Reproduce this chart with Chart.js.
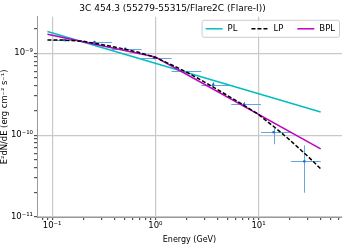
<!DOCTYPE html>
<html>
<head>
<meta charset="utf-8">
<script src="https://cdn.jsdelivr.net/npm/chart.js@4.4.0/dist/chart.umd.min.js"></script>
<style>
  html, body { margin: 0; padding: 0; background: #fff; }
  canvas { display: block; }
</style>
</head>
<body>
<canvas id="sed" width="346" height="245"></canvas>
<script>
// ===== Data =====
const energy = [0.132, 0.257, 0.509, 0.968, 1.79, 3.64, 7.23, 14.0, 27.8];
const eLow = [0.1, 0.1946, 0.3788, 0.7372, 1.435, 2.793, 5.436, 10.58, 20.59];
const eHigh = [0.1946, 0.3788, 0.7372, 1.435, 2.793, 5.436, 10.58, 20.59, 40.07];
const flux = [1.45e-9, 1.37e-9, 1.13e-9, 8.77e-10, 6.11e-10, 4.14e-10, 2.37e-10, 1.09e-10, 4.77e-11];
const fluxLow = [1.39e-9, 1.31e-9, 1.08e-9, 8.4e-10, 5.85e-10, 3.85e-10, 2.2e-10, 7.74e-11, 1.98e-11];
const fluxHigh = [1.51e-9, 1.43e-9, 1.18e-9, 9.1e-10, 6.4e-10, 4.45e-10, 2.55e-10, 1.25e-10, 7.5e-11];

// model curves
const plE = [0.09, 40];
const plF = [1.85e-9, 1.92e-10];
const lpE = [0.09, 0.13, 0.2, 0.3, 0.5, 0.7, 1, 1.5, 2, 3, 5, 7, 10, 15, 20, 30, 40];
const lpF = [1.45e-9, 1.45e-9, 1.4e-9, 1.28e-9, 1.13e-9, 1.02e-9, 8.9e-10, 7.05e-10, 5.9e-10,
             4.45e-10, 3.05e-10, 2.37e-10, 1.79e-10, 1.19e-10, 8.77e-11, 5.52e-11, 3.89e-11];
const bplE = [0.09, 1, 40];
const bplF = [1.71e-9, 9.0e-10, 6.8e-11];

// ticks
const xMajor = [0.1, 1, 10];
const xMajorLabels = ['10\u207B\u00B9', '10\u2070', '10\u00B9'];
const yMajor = [1e-11, 1e-10, 1e-9];
const yMajorLabels = ['10\u207B\u00B9\u00B9', '10\u207B\u00B9\u2070', '10\u207B\u2079'];

const FONT = 'DejaVu Sans';

function minorTicks(lo, hi) {
  const out = [];
  for (let e = Math.floor(Math.log10(lo)); e <= Math.ceil(Math.log10(hi)); e++) {
    for (let m = 1; m < 10; m++) {
      const v = m * Math.pow(10, e);
      if (v >= lo && v <= hi) out.push(v);
    }
  }
  return out;
}
function isMajor(list, v) {
  return list.some(m => Math.abs(Math.log10(m) - Math.log10(v)) < 1e-6);
}
const pts = (xs, ys) => xs.map((v, i) => ({ x: v, y: ys[i] }));

// ===== error bars drawn through the chart scales =====
const errorBars = {
  id: 'errorBars',
  beforeDatasetsDraw(chart) {
    const { ctx, chartArea, scales: { x, y } } = chart;
    ctx.save();
    ctx.beginPath();
    ctx.rect(chartArea.left, chartArea.top, chartArea.width, chartArea.height);
    ctx.clip();
    ctx.strokeStyle = '#62a8e0';
    ctx.lineWidth = 1;
    energy.forEach((e, i) => {
      const px = Math.round(x.getPixelForValue(e)) + 0.5;
      const py = Math.round(y.getPixelForValue(flux[i])) + 0.5;
      ctx.beginPath();
      ctx.moveTo(x.getPixelForValue(eLow[i]), py);
      ctx.lineTo(x.getPixelForValue(eHigh[i]), py);
      ctx.moveTo(px, y.getPixelForValue(fluxLow[i]));
      ctx.lineTo(px, y.getPixelForValue(fluxHigh[i]));
      ctx.stroke();
    });
    ctx.restore();
  }
};

// ===== legend box (matplotlib style) =====
const boxLegend = {
  id: 'boxLegend',
  afterDraw(chart) {
    const { ctx, chartArea } = chart;
    const items = chart.data.datasets.filter(d => d.showLine);
    ctx.save();
    ctx.font = '8.5px ' + FONT;
    const lineLen = 17, gapText = 5, gapItem = 14, pad = 4;
    let w = pad * 2;
    items.forEach((d, i) => {
      w += lineLen + gapText + ctx.measureText(d.label).width;
      if (i < items.length - 1) w += gapItem;
    });
    const h = 17;
    const right = chartArea.right - 3;
    const left = right - w;
    const top = chartArea.top + 3;
    ctx.fillStyle = 'rgba(255,255,255,0.8)';
    ctx.strokeStyle = '#cccccc';
    ctx.lineWidth = 1;
    ctx.beginPath();
    ctx.roundRect(left + 0.5, top + 0.5, w, h, 2);
    ctx.fill();
    ctx.stroke();
    let cx = left + pad;
    const cy = top + h / 2 + 0.5;
    items.forEach(d => {
      ctx.strokeStyle = d.borderColor;
      ctx.lineWidth = 1.5;
      ctx.setLineDash(d.borderDash || []);
      ctx.beginPath();
      ctx.moveTo(cx, cy);
      ctx.lineTo(cx + lineLen, cy);
      ctx.stroke();
      ctx.setLineDash([]);
      cx += lineLen + gapText;
      ctx.fillStyle = '#000';
      ctx.textBaseline = 'middle';
      ctx.fillText(d.label, cx, cy);
      cx += ctx.measureText(d.label).width + gapItem;
    });
    ctx.restore();
  }
};

const xMin = 0.0713, xMax = 64.4, yMin = 1e-11, yMax = 2.79e-9;

const sedCtx = document.getElementById('sed').getContext('2d');
new Chart(sedCtx, {
  type: 'scatter',
  data: {
    datasets: [
      {
        label: 'data',
        data: pts(energy, flux),
        pointStyle: 'rect',
        pointRadius: 1.6,
        backgroundColor: '#2a62d4',
        borderColor: '#2a62d4',
        borderWidth: 0,
        order: 4
      },
      {
        label: 'PL',
        data: pts(plE, plF),
        showLine: true,
        borderColor: '#00bfbf',
        borderWidth: 1.5,
        pointRadius: 0,
        order: 3
      },
      {
        label: 'LP',
        data: pts(lpE, lpF),
        showLine: true,
        borderColor: '#000000',
        borderDash: [4, 2],
        borderWidth: 1.5,
        pointRadius: 0,
        order: 1
      },
      {
        label: 'BPL',
        data: pts(bplE, bplF),
        showLine: true,
        borderColor: '#bf00bf',
        borderWidth: 1.5,
        pointRadius: 0,
        order: 2
      }
    ]
  },
  options: {
    responsive: false,
    animation: false,
    devicePixelRatio: 1,
    layout: { padding: { left: 0, right: 1, top: 0, bottom: 0 } },
    plugins: {
      legend: { display: false },
      tooltip: { enabled: false },
      title: {
        display: true,
        text: '3C 454.3 (55279-55315/Flare2C (Flare-I))',
        color: '#000',
        font: { family: FONT, size: 9, weight: 'normal' },
        padding: { top: 3, bottom: 3 }
      }
    },
    scales: {
      x: {
        type: 'logarithmic',
        min: xMin,
        max: xMax,
        afterBuildTicks: s => { s.ticks = minorTicks(xMin, xMax).map(v => ({ value: v })); },
        afterFit: s => { s.height = 28; },
        ticks: {
          autoSkip: false,
          maxRotation: 0,
          color: '#000',
          padding: 1,
          font: { family: FONT, size: 8.5 },
          callback: v => { const i = xMajor.findIndex(m => isMajor([m], v)); return i >= 0 ? xMajorLabels[i] : ''; }
        },
        grid: {
          color: c => (c.tick && isMajor(xMajor, c.tick.value)) ? '#c8c8c8' : 'rgba(0,0,0,0)',
          lineWidth: 1.2,
          tickColor: '#555',
          tickLength: 3
        },
        border: { color: '#999', width: 1 },
        title: {
          display: true,
          text: 'Energy (GeV)',
          color: '#000',
          font: { family: FONT, size: 8 },
          padding: { top: 0, bottom: 0 }
        }
      },
      y: {
        type: 'logarithmic',
        min: yMin,
        max: yMax,
        afterBuildTicks: s => { s.ticks = minorTicks(yMin, yMax).map(v => ({ value: v })); },
        afterFit: s => { s.width = 37; },
        ticks: {
          autoSkip: false,
          color: '#000',
          padding: 1,
          font: { family: FONT, size: 8.5 },
          callback: v => { const i = yMajor.findIndex(m => isMajor([m], v)); return i >= 0 ? yMajorLabels[i] : ''; }
        },
        grid: {
          color: c => (c.tick && isMajor(yMajor, c.tick.value)) ? '#c8c8c8' : 'rgba(0,0,0,0)',
          lineWidth: 1.2,
          tickColor: '#555',
          tickLength: 3
        },
        border: { color: '#999', width: 1 },
        title: {
          display: true,
          text: 'E\u00B2dN/dE (erg cm\u207B\u00B2 s\u207B\u00B9)',
          color: '#000',
          font: { family: FONT, size: 8.4 },
          padding: { top: 0, bottom: 1 }
        }
      }
    }
  },
  plugins: [errorBars, boxLegend]
});
</script>
</body>
</html>
